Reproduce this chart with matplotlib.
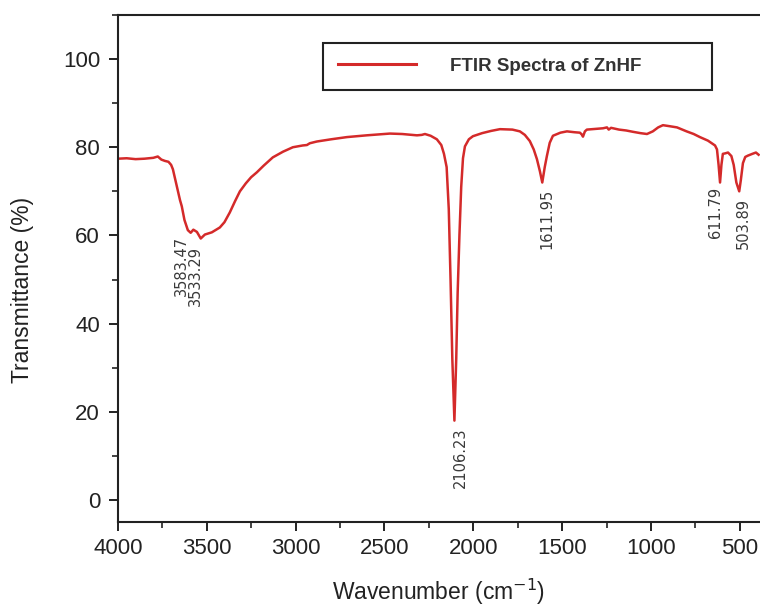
import matplotlib
matplotlib.use("Agg")
import matplotlib.pyplot as plt
from matplotlib.ticker import MultipleLocator

# ---- data ----
wavenumber = [4000, 3950, 3900, 3850, 3800, 3775, 3755, 3735, 3715, 3700, 3690,
              3670, 3650, 3640, 3625, 3606, 3590, 3583.47, 3575, 3555, 3533.29,
              3510, 3471, 3426, 3400, 3370, 3340, 3313, 3280, 3250, 3218, 3180,
              3128, 3070, 3015, 2960, 2936, 2920, 2880, 2800, 2711, 2600, 2469,
              2400, 2317, 2290, 2272, 2240, 2205, 2180, 2165, 2150, 2138, 2128,
              2118, 2106.23, 2096, 2088, 2078, 2068, 2058, 2047, 2025, 2002,
              1950, 1900, 1850, 1780, 1738, 1710, 1682, 1660, 1642, 1625,
              1611.95, 1598, 1586, 1570, 1552, 1510, 1473, 1430, 1400, 1390,
              1383, 1372, 1361, 1300, 1270, 1248, 1238, 1225, 1180, 1140, 1102,
              1060, 1023, 990, 960, 933, 900, 854, 800, 760, 725, 680, 640, 629,
              620, 611.79, 604, 596, 584, 567, 548, 535, 520, 503.89, 495, 483,
              470, 455, 430, 410, 395]
transmittance = [77.4, 77.5, 77.3, 77.4, 77.6, 77.9, 77.2, 76.9, 76.7, 76.0, 75.0,
                 71.5, 68.0, 66.6, 63.5, 61.2, 60.6, 60.9, 61.3, 60.8, 59.3,
                 60.2, 60.7, 61.8, 63.0, 65.2, 67.8, 70.0, 71.8, 73.2, 74.3, 75.8,
                 77.7, 79.0, 80.0, 80.4, 80.5, 80.9, 81.3, 81.8, 82.3, 82.7, 83.1,
                 83.0, 82.7, 82.8, 83.0, 82.6, 81.8, 80.5, 78.5, 75.5, 66.0, 50.0,
                 32.0, 18.0, 32.0, 47.0, 60.0, 71.0, 77.5, 80.2, 81.8, 82.5,
                 83.2, 83.7, 84.1, 84.0, 83.6, 82.8, 81.4, 79.5, 77.3, 74.5,
                 72.0, 75.5, 78.0, 81.0, 82.6, 83.3, 83.6, 83.4, 83.3, 82.9,
                 82.4, 83.6, 84.0, 84.2, 84.3, 84.5, 84.0, 84.4, 84.0, 83.8, 83.5,
                 83.2, 83.0, 83.6, 84.5, 85.0, 84.8, 84.5, 83.6, 83.0, 82.3, 81.5, 80.4, 79.5,
                 76.0, 72.0, 76.0, 78.5, 78.6, 78.8, 78.0, 76.0, 72.0, 70.0, 72.5, 76.4,
                 77.8, 78.1, 78.5, 78.8, 78.3]

peak_wn = [3583.47, 3533.29, 2106.23, 1611.95, 611.79, 503.89]
peak_t = [60.9, 59.3, 18.0, 72.0, 72.0, 70.0]
peak_labels = ["3583.47", "3533.29", "2106.23", "1611.95", "611.79", "503.89"]

series_label = "FTIR Spectra of ZnHF"
x_ticks = [4000, 3500, 3000, 2500, 2000, 1500, 1000, 500]
y_ticks = [0, 20, 40, 60, 80, 100]

# label offsets (points) relative to each peak
label_offsets = [(-7.5, -3.5), (-3.5, -5.5), (4.5, -5.0), (3.5, -4.5), (-3.0, -3.5), (3.0, -4.5)]

plt.rcParams['font.family'] = ['Liberation Sans', 'DejaVu Sans']

fig = plt.figure(figsize=(7.6, 6.08), dpi=100)
ax = fig.add_axes([0.155, 0.1414, 0.845, 0.834])

ax.plot(wavenumber, transmittance, color='#d42a2a', lw=1.8, label=series_label)

for wn, t, lab, off in zip(peak_wn, peak_t, peak_labels, label_offsets):
    ax.annotate(lab, xy=(wn, t), xytext=off, textcoords='offset points',
                rotation=90, ha='center', va='top', fontsize=10.5,
                color='#3a3a3a', family='DejaVu Sans')

ax.set_xlim(4000, 387)
ax.set_ylim(-5, 110)
ax.set_xticks(x_ticks)
ax.set_yticks(y_ticks)
ax.xaxis.set_minor_locator(MultipleLocator(250))
ax.yaxis.set_minor_locator(MultipleLocator(10))

ax.tick_params(axis='both', which='major', direction='out', length=6.8, width=1.4,
               labelsize=16, pad=5, colors='#222222', top=False, right=False)
ax.tick_params(axis='both', which='minor', direction='out', length=4, width=1.2,
               top=False, right=False, colors='#222222')
ax.tick_params(axis='y', which='major', pad=6)

for side in ['left', 'bottom', 'top']:
    ax.spines[side].set_linewidth(1.5)
    ax.spines[side].set_color('#222222')
ax.spines['right'].set_visible(False)

ax.set_xlabel('Wavenumber (cm$^{-1}$)', fontsize=16.5, color='#222222')
ax.set_ylabel('Transmittance (%)', fontsize=16.5, color='#222222')
ax.xaxis.set_label_coords(0.5, -0.108)
ax.yaxis.set_label_coords(-0.131, 0.458)

leg = ax.legend(loc='upper left', bbox_to_anchor=(0.319, 0.852, 0.606, 0.093),
                mode='expand', borderaxespad=0, fancybox=False, framealpha=1,
                edgecolor='#222222', handlelength=4.2, handletextpad=1.8,
                borderpad=0.8,
                prop={'weight': 'bold', 'size': 13.5, 'family': 'Liberation Sans'})
leg.get_frame().set_linewidth(1.5)
for txt in leg.get_texts():
    txt.set_color('#333333')
for line in leg.get_lines():
    line.set_linewidth(2.2)

fig.savefig('out.png', dpi=100)
